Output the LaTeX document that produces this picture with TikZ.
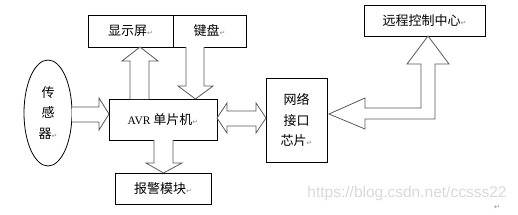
\documentclass[tikz,border=0pt]{standalone}
\usepackage{fontspec}
\setmainfont{Liberation Serif}
\newfontfamily\cjk{Noto Sans CJK SC}
\newfontfamily\symfont{DejaVu Sans}
\newfontfamily\wmfont{Liberation Sans}
\usetikzlibrary{shapes.geometric}
\newcommand{\pmark}{{\symfont\fontsize{7}{8}\selectfont\color{black!45}↵}}
\begin{document}
\begin{tikzpicture}[x=1pt,y=-1pt,
  box/.style={draw, line width=0.8pt, inner sep=0pt, align=center,
    font=\cjk\fontsize{13}{20.5}\selectfont},
  blk/.style={draw=black!65, line width=0.8pt, fill=white, line join=miter}]
\useasboundingbox (0,0) rectangle (518,214);
% boxes
\node[box, minimum width=85pt, minimum height=32pt] (disp) at (130.5,31) {显示屏\pmark};
\node[box, minimum width=73pt, minimum height=32pt] (kbd) at (209.5,31) {键盘\pmark};
\node[box, ellipse, minimum width=48pt, minimum height=106pt] (sens) at (48,113) {传\\感\\器\pmark};
\node[box, minimum width=108pt, minimum height=41pt] (avr) at (163,119.5) {{\rmfamily\fontsize{11.5}{14}\selectfont AVR} 单片机\pmark};
\node[box, minimum width=96pt, minimum height=31pt] (alarm) at (163,188.5) {报警模块\pmark};
\node[box, minimum width=61pt, minimum height=84pt] (net) at (296.5,120) {网络\\接口\\芯片\pmark};
\node[box, minimum width=121pt, minimum height=31pt] (remote) at (424.5,20.5) {远程控制中心\pmark};
% block arrows
\draw[blk] (130,99) -- (130,61) -- (122,61) -- (140,47) -- (158,61) -- (149,61) -- (149,99);
\draw[blk] (186,47) -- (186,86) -- (178,86) -- (195.5,99) -- (213,86) -- (204,86) -- (204,47);
\draw[blk] (72,107) -- (99,107) -- (99,98) -- (109,114) -- (99,130) -- (99,122) -- (72,122);
\draw[blk] (154,140) -- (154,163) -- (146,163) -- (163.5,173) -- (182,163) -- (173,163) -- (173,140);
\draw[blk] (217,118) -- (227,103) -- (227,111) -- (256,111) -- (256,103) -- (266,118)
  -- (256,133) -- (256,126) -- (227,126) -- (227,133) -- cycle;
\draw[blk] (329,114) -- (365,98) -- (365,108) -- (421,108) -- (421,64) -- (407,64)
  -- (428,36) -- (449,64) -- (435,64) -- (435,119) -- (365,119) -- (365,129) -- cycle;
% watermark
\node[font=\wmfont\fontsize{15.5}{18}\selectfont, text=black!15, inner sep=0pt] (wm) at (407,193) {https://blog.csdn.net/ccsss22};
\node[inner sep=0pt] (pm) at (497,207) {\pmark};
\end{tikzpicture}
\end{document}
